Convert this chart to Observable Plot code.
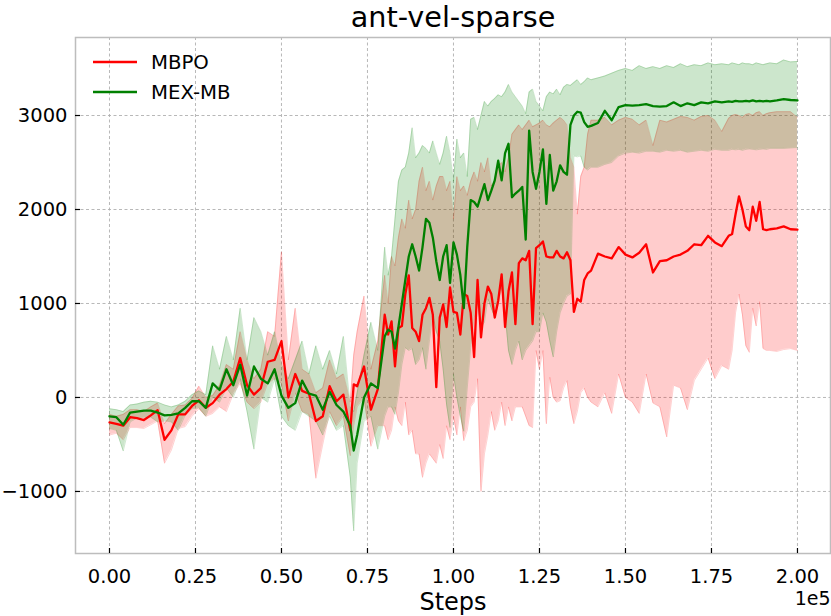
<!DOCTYPE html>
<html><head><meta charset="utf-8">
<script src="https://cdn.jsdelivr.net/npm/d3@7"></script>
<script src="https://cdn.jsdelivr.net/npm/@observablehq/plot@0.6"></script>
<style>
body{margin:0;background:#fff;}
#wrap{width:831px;height:616px;}
</style></head><body>
<div id="wrap"></div>
<script>
// Steps (in units of 1e5)
const steps = [
 0,0.02,0.04,0.06,0.08,0.1,0.12,0.14,0.16,0.18,0.2,0.22,0.24,0.26,0.28,0.3,0.32,0.34,0.36,0.38,0.4,0.42,0.44,0.46,0.48,0.5,0.52,0.54,0.56,0.58,0.6,0.62,0.64,0.66,0.68,0.7,0.71,0.72,0.74,0.76,0.78,
 0.8,0.81,0.82,0.83,0.84,0.85,0.86,0.87,0.88,0.89,0.9,0.91,0.92,0.93,0.94,0.95,0.96,0.97,0.98,0.99,
 1.0,1.01,1.02,1.03,1.04,1.05,1.06,1.07,1.08,1.09,1.1,1.11,1.12,1.13,1.14,1.15,1.16,1.17,1.18,1.19,
 1.2,1.21,1.22,1.23,1.24,1.25,1.26,1.27,1.28,1.29,1.3,1.31,1.32,1.33,1.34,1.35,1.36,1.37,1.38,1.39,1.4,
 1.42,1.44,1.46,1.48,1.5,1.52,1.54,1.56,1.58,1.6,1.62,1.64,1.66,1.68,1.7,1.72,1.74,1.76,1.78,
 1.8,1.81,1.82,1.83,1.84,1.85,1.86,1.87,1.88,1.89,1.9,1.91,1.92,
 1.94,1.96,1.98,2.0
];
const mbpoMean = [
 -265,-280,-300,-210,-220,-240,-190,-135,-450,-350,-180,-180,-90,-30,-110,-60,30,90,170,420,130,30,100,380,400,600,0,250,70,40,-250,-200,120,-40,30,-350,140,120,330,-130,90,
 880,670,810,330,740,760,1100,1300,740,700,
 600,880,950,1060,880,110,850,990,750,1170,
 910,900,670,1100,1080,900,430,1250,640,1000,
 1180,1100,850,1030,1310,750,1130,1330,780,1430,
 1480,1460,1560,780,1590,1620,1660,1500,1490,1490,
 1560,1500,1480,1545,1460,910,1050,1020,1250,1320,1350,
 1530,1500,1480,1600,1520,1490,1540,1630,1330,1450,1460,1500,1520,1560,1630,1620,1720,1650,1610,
 1720,1740,1950,2140,2000,1820,1780,2030,1880,2080,1790,1780,1790,
 1800,1820,1790,1785
];
const mbpoLow = [
 -400,-380,-450,-320,-320,-330,-290,-250,-700,-560,-330,-310,-200,-120,-200,-170,-100,-150,40,150,-50,-120,-50,150,200,150,-250,50,-150,-180,-860,-500,-150,-300,-200,-620,-300,-100,0,-520,-300,
 -300,-450,-350,-100,-250,-300,-50,-400,-350,-600,
 -600,-850,-700,-600,-650,-700,-500,-650,-300,-450,
 -200,-400,-100,-460,-350,-100,-50,200,-1000,-600,
 -400,-150,-350,-250,-50,-300,-100,-250,-100,-100,
 -100,-200,-300,-320,500,300,500,-280,215,0,
 -50,-35,100,180,-100,-280,-150,50,100,0,-50,
 -100,50,-170,250,0,-50,-170,250,-60,-100,-420,130,100,-130,180,300,420,200,340,
 300,500,900,1100,880,550,480,950,760,1020,520,500,500,
 490,510,520,500
];
const mbpoHigh = [
 -180,-200,-180,-130,-130,-150,-100,-60,-280,-180,-90,-80,-10,120,0,20,130,350,300,700,400,200,300,700,650,1550,400,950,300,250,50,100,400,200,250,-50,450,700,1080,300,600,
 1300,1000,1500,1400,1700,1900,1800,2100,1900,2000,
 2300,2450,2200,2300,2100,2250,2350,2350,2200,2300,
 1900,2350,2200,2250,2150,2300,2400,2300,2500,2400,
 2550,2250,2300,2450,2500,2400,2550,2800,2850,2900,
 2850,2900,2950,2880,2900,2920,2950,2900,2880,2920,
 2950,2980,2950,2900,2550,2450,1950,2350,2450,2800,2950,
 2950,2980,2900,2950,2980,2960,2900,2950,2680,2950,2930,2960,2990,2980,2950,2990,3000,2950,2830,
 2970,3000,3010,3000,2980,3010,3020,3000,3030,3040,3000,3020,3030,
 3040,3040,3040,2980
];
const mexMean = [
 -200,-210,-290,-160,-150,-140,-140,-160,-190,-185,-170,-110,-40,-40,-110,150,80,300,130,350,20,330,200,150,300,20,-110,-60,180,40,20,-130,60,-80,-150,-300,-565,-400,0,150,100,
 650,720,700,520,750,1000,1250,1500,1630,1500,
 1350,1600,1900,1860,1700,1450,1250,1500,1620,1220,
 1650,1520,1300,950,1600,2100,2080,2030,2150,2270,
 2100,2200,2310,2520,2310,2600,2700,2130,2170,2200,
 2240,1680,2840,2400,2220,2400,2640,2060,2580,2200,
 2300,2470,2400,2370,2900,3000,3040,3030,2930,2880,2890,
 2920,3050,2950,3090,3110,3105,3110,3120,3100,3095,3100,3140,3100,3130,3110,3140,3130,3150,3140,
 3150,3145,3155,3150,3150,3155,3150,3160,3150,3155,3150,3155,3150,
 3160,3175,3165,3160
];
const mexLow = [
 -330,-350,-570,-260,-220,-210,-210,-260,-250,-260,-350,-190,-120,-110,-200,0,-50,100,0,200,-150,-550,0,-50,200,-200,-300,-350,-150,-200,-250,-400,-200,-350,-300,-850,-1420,-700,-250,-200,-550,
 -200,-100,-100,-180,50,350,530,500,520,350,
 400,530,300,600,880,700,600,300,-75,-320,
 245,0,-200,-360,100,530,850,1000,750,800,
 1050,950,850,1000,1170,900,500,350,500,600,
 400,500,550,600,700,700,900,800,600,430,
 700,900,1000,1080,1100,2570,2560,2570,2450,2420,2450,
 2450,2480,2500,2570,2600,2610,2600,2620,2620,2610,2630,2620,2630,2610,2620,2630,2620,2640,2630,
 2630,2640,2635,2640,2630,2640,2645,2640,2635,2640,2645,2640,2650,
 2650,2650,2655,2660
];
const mexHigh = [
 -120,-130,-150,-80,-70,-50,-40,-50,-80,-100,-80,-40,30,70,30,550,300,650,400,950,400,850,700,450,700,350,200,400,600,250,550,300,500,250,650,-100,-150,50,450,800,500,
 1600,1300,1500,1900,2300,2420,2450,2600,2870,2550,
 2600,2680,2650,2600,2730,2600,2480,2600,2780,2600,
 2300,2750,2550,2600,2350,2960,2980,2850,3000,3150,
 3100,3150,3180,3220,3200,3250,3330,3250,3200,3150,
 3100,3020,3250,3280,3150,3100,3050,3200,3250,3230,
 3280,3220,3300,3330,3320,3350,3380,3330,3360,3400,3380,
 3400,3420,3450,3480,3500,3480,3530,3500,3520,3500,3530,3510,3550,3520,3540,3530,3560,3540,3550,
 3540,3560,3550,3540,3560,3550,3550,3540,3560,3550,3540,3550,3560,
 3550,3590,3570,3575
];
const xTicks = [0, 0.25, 0.5, 0.75, 1.0, 1.25, 1.5, 1.75, 2.0];
const yTicks = [-1000, 0, 1000, 2000, 3000];
const seriesNames = ["MBPO", "MEX-MB"];
const seriesColors = ["#ff0000", "#008000"];

const rows = steps.map((x, i) => ({
  x, m: mbpoMean[i], mlo: mbpoLow[i], mhi: mbpoHigh[i],
  g: mexMean[i], glo: mexLow[i], ghi: mexHigh[i]
}));

const W = 831, H = 616, mL = 75, mR = 1, mT = 37, mB = 63;
const fmtY = d => d < 0 ? "\u2212" + Math.abs(d) : String(d);
const gridStyle = {stroke: "#b0b0b0", strokeOpacity: 1, strokeDasharray: "3,2.5", strokeWidth: 0.9};

const chart = Plot.plot({
  width: W, height: H,
  marginLeft: mL, marginRight: mR, marginTop: mT, marginBottom: mB,
  style: {fontFamily: "DejaVu Sans", background: "white", color: "black"},
  x: {domain: [-0.0988, 2.096]},
  y: {domain: [-1660, 3830]},
  marks: [
    Plot.gridX(xTicks, gridStyle),
    Plot.gridY(yTicks, gridStyle),
    Plot.areaY(rows, {x: "x", y1: "mlo", y2: "mhi", fill: seriesColors[0], fillOpacity: 0.2}),
    Plot.line(rows, {x: "x", y: "mlo", stroke: seriesColors[0], strokeOpacity: 0.18, strokeWidth: 1}),
    Plot.line(rows, {x: "x", y: "mhi", stroke: seriesColors[0], strokeOpacity: 0.18, strokeWidth: 1}),
    Plot.areaY(rows, {x: "x", y1: "glo", y2: "ghi", fill: seriesColors[1], fillOpacity: 0.2}),
    Plot.line(rows, {x: "x", y: "glo", stroke: seriesColors[1], strokeOpacity: 0.18, strokeWidth: 1}),
    Plot.line(rows, {x: "x", y: "ghi", stroke: seriesColors[1], strokeOpacity: 0.18, strokeWidth: 1}),
    Plot.line(rows, {x: "x", y: "m", stroke: seriesColors[0], strokeWidth: 2.3}),
    Plot.line(rows, {x: "x", y: "g", stroke: seriesColors[1], strokeWidth: 2.3}),
    Plot.frame({stroke: "#bdbdbd", strokeWidth: 1.5}),
    Plot.tickX(xTicks, {x: d => d, insetTop: H - mT - mB - 5, stroke: "black", strokeWidth: 1.2}),
    Plot.tickY(yTicks, {y: d => d, insetRight: W - mL - mR - 5, stroke: "black", strokeWidth: 1.2}),
    Plot.axisX(xTicks, {tickSize: 0, tickPadding: 16, fontSize: 19.5, tickFormat: d => d.toFixed(2), label: null}),
    Plot.axisY(yTicks, {tickSize: 0, tickPadding: 8, fontSize: 19.5, tickFormat: fmtY, label: null}),
    Plot.text(["Steps"], {text: d => d, frameAnchor: "bottom", lineAnchor: "bottom", dy: 56, fontSize: 24, fill: "black"}),
    Plot.text(["1e5"], {text: d => d, frameAnchor: "bottom-right", textAnchor: "end", lineAnchor: "bottom", dy: 51, fontSize: 19, fill: "black"}),
    Plot.text(["ant-vel-sparse"], {text: d => d, frameAnchor: "top", lineAnchor: "bottom", dy: -11, fontSize: 28.7, fill: "black"})
  ]
});

// legend (upper left, inside the axes)
const svg = d3.select(chart);
const leg = svg.append("g").attr("font-family", "DejaVu Sans").attr("font-size", 19.7).attr("text-anchor", "start");
seriesNames.forEach((name, i) => {
  const y = 62 + i * 30;
  leg.append("line").attr("x1", 93).attr("x2", 137).attr("y1", y).attr("y2", y)
    .attr("stroke", seriesColors[i]).attr("stroke-width", 2.3);
  leg.append("text").attr("x", 151).attr("y", y).attr("dy", "0.36em")
    .attr("text-anchor", "start").attr("fill", "black").text(name);
});

document.getElementById("wrap").appendChild(chart);
</script>
</body></html>
